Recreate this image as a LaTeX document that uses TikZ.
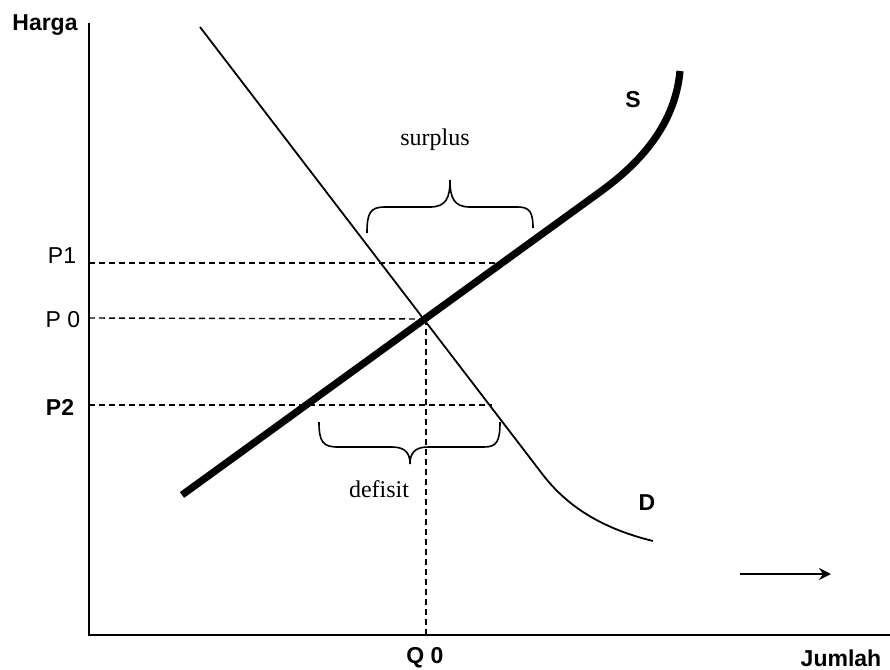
\documentclass[tikz,border=0pt]{standalone}
\usepackage{fontspec}
\setmainfont{Liberation Sans}
\newfontfamily\bracefont{Liberation Serif}
\usetikzlibrary{arrows.meta}
\begin{document}
\begin{tikzpicture}[x=0.5pt,y=-0.5pt,
  axisline/.style={line width=1pt, line cap=rect},
  demandline/.style={line width=0.9pt},
  supplyline/.style={line width=3.6pt},
  guideline/.style={dash pattern=on 3pt off 2pt, line width=0.7pt},
  braceline/.style={line width=0.8pt},
  lbl/.style={font=\fontsize{11.5}{13}\selectfont, inner sep=0pt},
  lblb/.style={font=\fontsize{11.5}{13}\selectfont\bfseries, inner sep=0pt},
  wordlbl/.style={font=\bracefont\fontsize{12}{14}\selectfont, inner sep=0pt}]
\useasboundingbox (0,0) rectangle (890,670);
\fill[white] (0,0) rectangle (890,670);

% axes
\coordinate (ytop) at (89,24);
\coordinate (orig) at (89,635);
\coordinate (xend) at (890,635);
\draw[axisline] (ytop) -- (orig) -- (xend);

% key points
\coordinate (E) at (424,319);
\coordinate (Dtop) at (200,27);
\coordinate (Dbend) at (540,471);
\coordinate (Dend) at (653,541);
\coordinate (Sbot) at (182,495);
\coordinate (Sbend) at (600,192);
\coordinate (Stop) at (680,71);

% dashed guides
\coordinate (p1a) at (89,263);  \coordinate (p1b) at (497,263);
\coordinate (p0a) at (89,318);
\coordinate (p2a) at (89,405);  \coordinate (p2b) at (492,405);
\coordinate (q0b) at (426,635); \coordinate (q0a) at (426,319);
\draw[guideline] (p1a) -- (p1b);
\draw[guideline] (p0a) -- (E);
\draw[guideline] (p2a) -- (p2b);
\draw[guideline] (q0a) -- (q0b);

% demand
\draw[demandline] (Dtop) -- (Dbend) .. controls (565,505) and (600,528) .. (Dend);
% supply
\draw[supplyline] (Sbot) -- (Sbend) .. controls (640,163) and (675,125) .. (Stop);

% surplus brace
\coordinate (sb1) at (367,233);
\coordinate (sbtip) at (450,180);
\coordinate (sb2) at (533,228);
\draw[braceline] (sb1) .. controls (367,213) and (370,207) .. (385,207)
  -- (430,207) .. controls (446,207) and (450,198) .. (sbtip)
  .. controls (450,198) and (454,207) .. (470,207)
  -- (518,207) .. controls (530,207) and (533,213) .. (sb2);

% defisit brace
\coordinate (db1) at (319,422);
\coordinate (dbtip) at (410,464);
\coordinate (db2) at (500,422);
\draw[braceline] (db1) .. controls (319,442) and (323,447) .. (338,447)
  -- (392,447) .. controls (406,447) and (410,454) .. (dbtip)
  .. controls (410,454) and (414,447) .. (428,447)
  -- (484,447) .. controls (497,447) and (500,441) .. (db2);

% arrow
\coordinate (a1) at (740,574);
\coordinate (a2) at (831,574);
\draw[line width=0.8pt, -{Stealth[length=6pt,width=6pt]}] (a1) -- (a2);

% labels
\node[lblb] (harga) at (45,25) {Harga};
\node[lbl] (lp1) at (62,256) {P1};
\node[lbl] (lp0) at (63,320) {P 0};
\node[lblb] (lp2) at (60,407) {P2};
\node[lblb] (lq0) at (425,658) {Q 0};
\node[lblb] (jumlah) at (841,658) {Jumlah};
\node[lblb] (ls) at (633,100) {S};
\node[lblb] (ld) at (647,503) {D};
\node[wordlbl] (surplus) at (435,140) {surplus};
\node[wordlbl] (defisit) at (379,489) {defisit};
\end{tikzpicture}
\end{document}
